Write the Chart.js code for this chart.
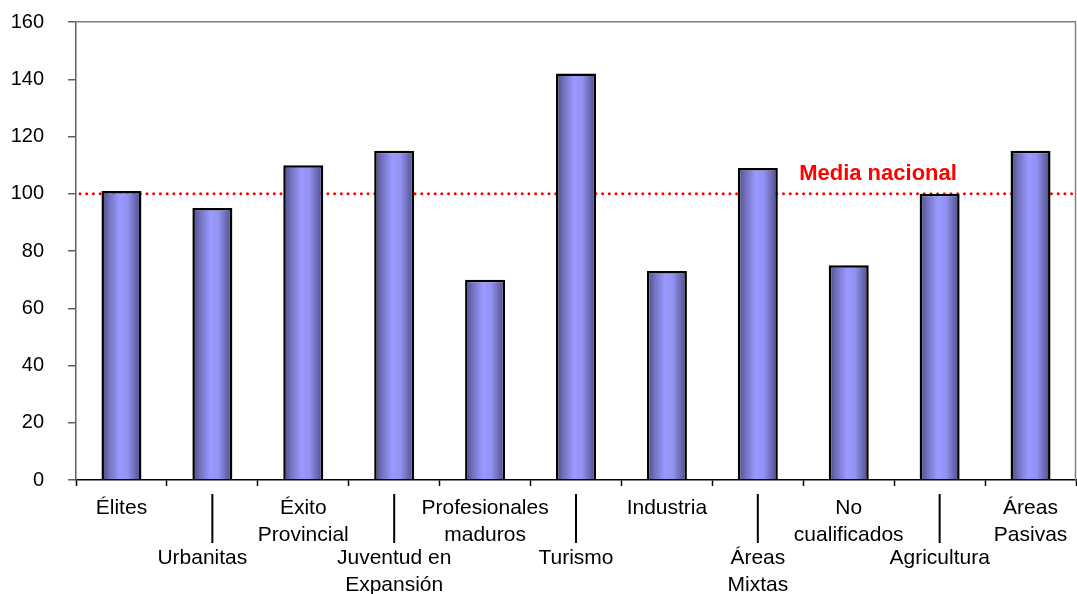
<!DOCTYPE html>
<html>
<head>
<meta charset="utf-8">
<script src="https://cdn.jsdelivr.net/npm/chart.js@4.4.1/dist/chart.umd.min.js"></script>
<style>
  html, body { margin: 0; padding: 0; background: #ffffff; }
  #wrap { width: 1077px; height: 594px; position: relative; }
</style>
</head>
<body>
<div id="wrap"><canvas id="c" width="1077" height="594"></canvas></div>
<script>
const categories = [
  ['Élites'], ['Urbanitas'], ['Éxito', 'Provincial'], ['Juventud en', 'Expansión'],
  ['Profesionales', 'maduros'], ['Turismo'], ['Industria'], ['Áreas', 'Mixtas'],
  ['No', 'cualificados'], ['Agricultura'], ['Áreas', 'Pasivas']
];
const values = [101, 95, 110, 115, 70, 142, 73, 109, 75, 100, 115];
const yTicks = [0, 20, 40, 60, 80, 100, 120, 140, 160];
const referenceValue = 100;
const referenceLabel = 'Media nacional';

const FONT = '"Liberation Sans", Arial, sans-serif';
const BAR_PCT = 0.44;

function barGradient(ctx) {
  const chart = ctx.chart;
  const xs = chart.scales && chart.scales.x;
  if (!xs || xs.width == null || ctx.dataIndex == null) return '#9999ff';
  const cx = xs.getPixelForValue(ctx.dataIndex);
  const w = (xs.width / categories.length) * BAR_PCT;
  const g = chart.ctx.createLinearGradient(cx - w / 2, 0, cx + w / 2, 0);
  g.addColorStop(0, '#4a4a80');
  g.addColorStop(0.2, '#7373c0');
  g.addColorStop(0.45, '#9999ff');
  g.addColorStop(0.65, '#9393f5');
  g.addColorStop(1, '#4a4a80');
  return g;
}

const overlay = {
  id: 'overlay',
  beforeDatasetsDraw(chart) {
    const { ctx, chartArea, scales } = chart;
    const y = scales.y.getPixelForValue(referenceValue);
    ctx.save();
    ctx.strokeStyle = '#ff0000';
    ctx.lineWidth = 3;
    ctx.lineCap = 'round';
    ctx.setLineDash([0, 6.7]);
    ctx.beginPath();
    ctx.moveTo(chartArea.left + 4, y);
    ctx.lineTo(chartArea.right, y);
    ctx.stroke();
    ctx.restore();
  },
  afterDraw(chart) {
    const { ctx, chartArea, scales } = chart;
    const xs = scales.x;
    ctx.save();
    // right border
    ctx.strokeStyle = '#808080';
    ctx.lineWidth = 1.5;
    ctx.beginPath();
    ctx.moveTo(chartArea.right - 0.5, chartArea.top);
    ctx.lineTo(chartArea.right - 0.5, chartArea.bottom);
    ctx.stroke();

    // reference label
    const yRef = scales.y.getPixelForValue(referenceValue);
    ctx.fillStyle = '#ff0000';
    ctx.font = 'bold 22px ' + FONT;
    ctx.textAlign = 'center';
    ctx.textBaseline = 'middle';
    ctx.fillText(referenceLabel, 878, yRef - 20);

    // category labels, staggered
    ctx.fillStyle = '#000000';
    ctx.font = '21px ' + FONT;
    ctx.textAlign = 'center';
    ctx.textBaseline = 'middle';
    categories.forEach((lines, i) => {
      const cx = xs.getPixelForValue(i);
      const low = i % 2 === 1;
      const y0 = chartArea.bottom + (low ? 78 : 28);
      const tx = cx + (i === 1 ? -10 : 0);
      lines.forEach((t, k) => ctx.fillText(t, tx, y0 + k * 27.5));
      if (low) {
        ctx.strokeStyle = '#000000';
        ctx.lineWidth = 2;
        ctx.beginPath();
        ctx.moveTo(cx, chartArea.bottom + 14);
        ctx.lineTo(cx, chartArea.bottom + 63);
        ctx.stroke();
      }
    });
    ctx.restore();
  }
};

new Chart(document.getElementById('c'), {
  type: 'bar',
  data: {
    labels: categories,
    datasets: [{
      data: values,
      backgroundColor: barGradient,
      borderColor: '#000000',
      borderWidth: 2.5,
      barPercentage: BAR_PCT,
      categoryPercentage: 1.0
    }]
  },
  options: {
    responsive: false,
    animation: false,
    devicePixelRatio: 1,
    layout: { autoPadding: false, padding: { top: 22, right: 1, bottom: 0, left: 0 } },
    plugins: { legend: { display: false }, tooltip: { enabled: false } },
    scales: {
      x: {
        ticks: { display: false },
        grid: {
          offset: true,
          drawOnChartArea: false,
          drawTicks: true,
          tickLength: 6,
          tickColor: '#000000',
          tickWidth: 1.5
        },
        border: { display: true, color: '#000000', width: 1.5 },
        afterFit(scale) { scale.height = 114; scale.paddingLeft = 0; scale.paddingRight = 0; }
      },
      y: {
        min: 0,
        max: 160,
        afterBuildTicks(scale) { scale.ticks = yTicks.map(v => ({ value: v })); },
        ticks: {
          color: '#000000',
          font: { family: FONT, size: 20 },
          padding: 24
        },
        grid: {
          color: (c) => (c.tick && c.tick.value === 160 ? '#808080' : 'rgba(0,0,0,0)'),
          lineWidth: 1.5,
          drawTicks: true,
          tickLength: 8,
          tickColor: '#606060',
          tickWidth: 1.5
        },
        border: { display: true, color: '#606060', width: 1.5 },
        afterFit(scale) { scale.width = 76; scale.paddingTop = 0; scale.paddingBottom = 0; }
      }
    }
  },
  plugins: [overlay]
});
</script>
</body>
</html>
